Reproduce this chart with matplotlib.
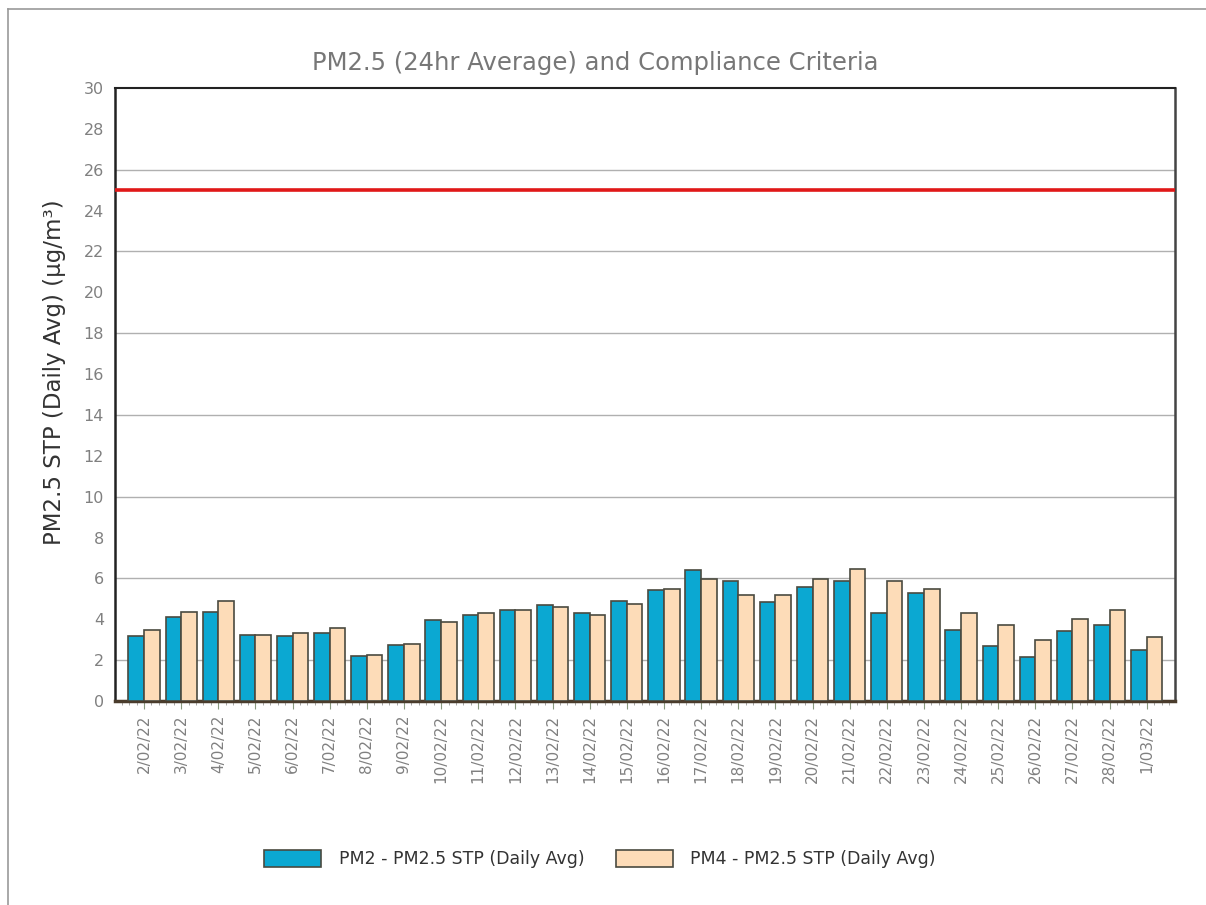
import matplotlib
matplotlib.use('Agg')
import matplotlib.pyplot as plt
from matplotlib.lines import Line2D
import numpy as np

# data
dates = ['2/02/22', '3/02/22', '4/02/22', '5/02/22', '6/02/22', '7/02/22', '8/02/22',
         '9/02/22', '10/02/22', '11/02/22', '12/02/22', '13/02/22', '14/02/22', '15/02/22',
         '16/02/22', '17/02/22', '18/02/22', '19/02/22', '20/02/22', '21/02/22', '22/02/22',
         '23/02/22', '24/02/22', '25/02/22', '26/02/22', '27/02/22', '28/02/22', '1/03/22']
pm2 = [3.20, 4.09, 4.38, 3.25, 3.20, 3.33, 2.21, 2.73, 3.94, 4.23, 4.45, 4.68, 4.32, 4.89,
       5.42, 6.39, 5.86, 4.84, 5.57, 5.86, 4.32, 5.29, 3.49, 2.67, 2.16, 3.41, 3.71, 2.52]
pm4 = [3.49, 4.38, 4.89, 3.25, 3.33, 3.56, 2.27, 2.80, 3.86, 4.32, 4.45, 4.61, 4.23, 4.76,
       5.50, 5.95, 5.21, 5.21, 5.95, 6.46, 5.86, 5.50, 4.32, 3.71, 2.97, 4.00, 4.45, 3.11]
criteria = 25
grid_vals = [2, 6, 10, 14, 18, 22, 26]

blue = '#0ba8d2'
tan = '#fddcb8'
edge = '#4a4a40'

fig = plt.figure(figsize=(12.06, 9.05), dpi=100)
ax = fig.add_axes([115 / 1206, 1 - 701 / 905, 1060 / 1206, 613 / 905])

x = np.arange(len(dates))
w = 0.42
ax.bar(x - w / 2, pm2, w, color=blue, edgecolor=edge, linewidth=1.2, zorder=3,
       label='PM2 - PM2.5 STP (Daily Avg)')
ax.bar(x + w / 2, pm4, w, color=tan, edgecolor=edge, linewidth=1.2, zorder=3,
       label='PM4 - PM2.5 STP (Daily Avg)')

for g in grid_vals:
    ax.axhline(g, color='#b0b0b0', linewidth=1, zorder=1)
ax.axhline(criteria, color='#e01818', linewidth=2.6, zorder=4)

ax.set_xlim(-0.78, len(dates) - 1 + 0.76)
ax.set_ylim(0, 30)
ax.set_yticks(np.arange(0, 31, 2))
ax.set_xticks(x)
ax.set_xticklabels(dates, rotation=90)
ax.set_xticks(np.arange(-0.6, len(dates) - 1 + 0.7, 0.2), minor=True)
ax.tick_params(axis='x', which='major', length=6, color='#8a9a80', labelsize=11,
               labelcolor='#808080', pad=4)
ax.tick_params(axis='x', which='minor', length=3, color='#999999')
ax.tick_params(axis='y', length=0, labelsize=11.5, labelcolor='#808080', pad=8)

ax.spines['left'].set_linewidth(1.8)
ax.spines['left'].set_color('#222222')
ax.spines['top'].set_linewidth(1.5)
ax.spines['top'].set_color('#222222')
ax.spines['right'].set_linewidth(1.8)
ax.spines['right'].set_color('#444444')
ax.spines['bottom'].set_linewidth(2.5)
ax.spines['bottom'].set_color('#4a3c2c')

ax.set_ylabel('PM2.5 STP (Daily Avg) (µg/m³)', fontsize=16.5, color='#333333')
ax.yaxis.set_label_coords(-0.046, 0.537)
fig.text(595 / 1206, 1 - 63 / 905, 'PM2.5 (24hr Average) and Compliance Criteria',
         ha='center', va='center', fontsize=17.5, color='#777777')

fig.legend(loc='center', bbox_to_anchor=(600 / 1206, 1 - 859 / 905), ncol=2,
           frameon=False, fontsize=12.5, labelcolor='#333333', handlelength=3.3,
           handleheight=1.1, columnspacing=1.8, handletextpad=1.0)

# outer frame lines (top and left)
fig.add_artist(Line2D([8 / 1206, 1], [1 - 9 / 905, 1 - 9 / 905], color='#999999', linewidth=1.2))
fig.add_artist(Line2D([8 / 1206, 8 / 1206], [0, 1 - 9 / 905], color='#999999', linewidth=1.2))

fig.savefig('out.png', dpi=100)
